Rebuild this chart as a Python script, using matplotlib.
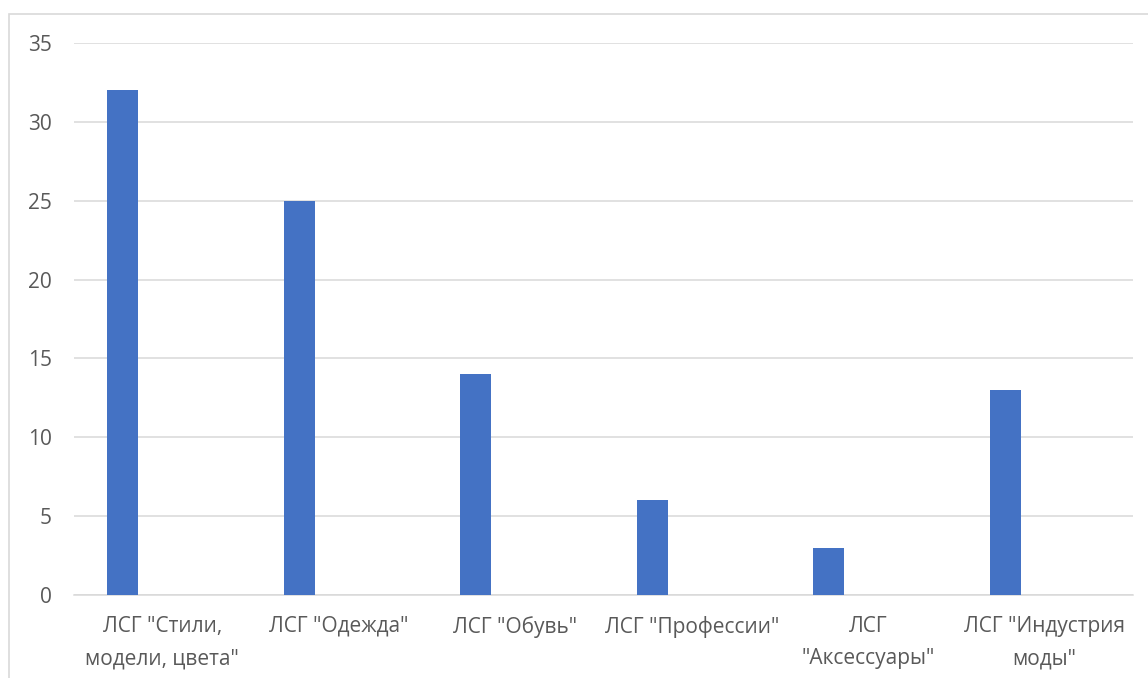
import matplotlib
matplotlib.use("Agg")
import matplotlib.pyplot as plt
from matplotlib.patches import Rectangle

categories = ['ЛСГ "Стили,\nмодели, цвета"', 'ЛСГ "Одежда"', 'ЛСГ "Обувь"',
              'ЛСГ "Профессии"', 'ЛСГ\n"Аксессуары"', 'ЛСГ "Индустрия\nмоды"']
values = [32, 25, 14, 6, 3, 13]
yticks = [0, 5, 10, 15, 20, 25, 30, 35]

W, H = 1148, 678
fig = plt.figure(figsize=(W / 100, H / 100), dpi=100)
plt.rcParams['font.family'] = ['Open Sans', 'DejaVu Sans']

# outer chart border
fig.patches.append(Rectangle((9 / W, -0.1), 1.2, 1 - 14 / H + 0.1, transform=fig.transFigure,
                             fill=False, edgecolor='#d9d9d9', linewidth=1.2))

ax = fig.add_axes([74 / W, 1 - 595 / H, (1133 - 74) / W, (595 - 43) / H])
x = list(range(len(categories)))
ax.bar([i - 0.225 for i in x], values, width=0.176, color='#4472c4', zorder=3)
ax.set_xlim(-0.5, len(categories) - 0.5)
ax.set_ylim(0, 35)
ax.set_yticks(yticks)
ax.set_yticklabels([str(t) for t in yticks])
ax.set_xticks(x)
ax.set_xticklabels(categories, linespacing=1.72)
ax.grid(axis='y', color='#d9d9d9', linewidth=1.1, zorder=0)
for s in ['top', 'right', 'left']:
    ax.spines[s].set_visible(False)
ax.spines['bottom'].set_color('#d9d9d9')
ax.spines['bottom'].set_linewidth(1.1)
ax.tick_params(axis='both', length=0, labelsize=15, labelcolor='#595959')
ax.tick_params(axis='y', pad=16)
ax.tick_params(axis='x', pad=15)

fig.savefig('out.png', dpi=100)
